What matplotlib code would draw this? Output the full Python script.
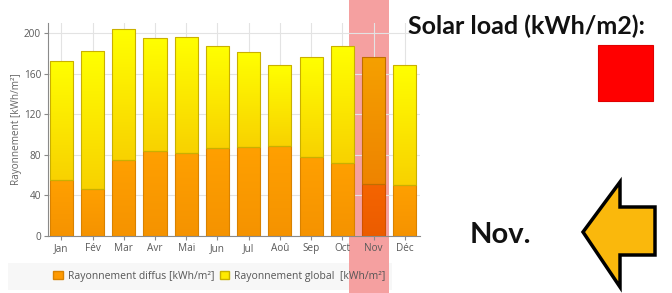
import numpy as np
import matplotlib.pyplot as plt
from matplotlib.colors import to_rgb
from matplotlib.patches import Patch, Rectangle, Polygon
from matplotlib.transforms import blended_transform_factory

# Adatok
months = ['Jan', 'Fév', 'Mar', 'Avr', 'Mai', 'Jun', 'Jul', 'Aoû', 'Sep', 'Oct', 'Nov', 'Déc']
diffus = [55, 46, 75, 84, 82, 87, 88, 89, 78, 72, 51, 50]
glob = [173, 182, 204, 195, 196, 187, 181, 169, 176, 187, 176, 169]
highlight = 'Nov'

W, H = 672, 293
band_col = '#f5a0a0'

def px(x, y):
    return x / W, 1 - y / H

def multiply(c):
    return tuple(np.array(to_rgb(c)) * np.array(to_rgb(band_col)))

def gradient_bar(ax, rect, c_top, c_bot):
    n = 64
    t = np.linspace(0, 1, n)[:, None, None]
    img = np.array(to_rgb(c_bot))[None, None, :] * (1 - t) + np.array(to_rgb(c_top))[None, None, :] * t
    x, y = rect.get_x(), rect.get_y()
    im = ax.imshow(img, extent=[x, x + rect.get_width(), y, y + rect.get_height()],
                   origin='lower', aspect='auto', zorder=2, interpolation='bilinear')
    im.set_clip_path(rect)

plt.rcParams['font.family'] = ['Open Sans', 'DejaVu Sans']

fig = plt.figure(figsize=(W / 100, H / 100), dpi=100)

# háttér a jelmagyarázathoz
fig.patches.append(Rectangle(px(8, 290), 384 / W, 27 / H, transform=fig.transFigure,
                             facecolor='#f7f7f7', edgecolor='none', zorder=-3))

ax = fig.add_axes([48 / W, 57 / H, 372 / W, 213 / H])
ax.patch.set_alpha(0)

x = np.arange(len(months))
hi = months.index(highlight)

# kiemelő sáv a teljes magasságban
trans = blended_transform_factory(ax.transData, fig.transFigure)
fig.patches.append(Rectangle((hi - 0.78, 0), 1.28, 1, transform=trans,
                             facecolor=band_col, edgecolor='none', zorder=-2))

top_part = [g - d for g, d in zip(glob, diffus)]
b1 = ax.bar(x, diffus, width=0.74, facecolor='none', edgecolor='#d98200', linewidth=0.8, zorder=3)
b2 = ax.bar(x, top_part, bottom=diffus, width=0.74, facecolor='none', edgecolor='#c9b000',
            linewidth=0.8, zorder=3)

for i, (r1, r2) in enumerate(zip(b1, b2)):
    d_top, d_bot = '#ffa000', '#f59300'
    g_top, g_bot = '#ffff00', '#f8d200'
    if i == hi:
        d_top, d_bot, g_top, g_bot = map(multiply, (d_top, d_bot, g_top, g_bot))
        r1.set_edgecolor(multiply('#d98200'))
        r2.set_edgecolor(multiply('#c9b000'))
    gradient_bar(ax, r1, d_top, d_bot)
    gradient_bar(ax, r2, g_top, g_bot)

ax.set_xlim(-0.43, 11.49)
ax.set_ylim(0, 210)
ax.set_yticks([0, 40, 80, 120, 160, 200])
ax.set_xticks(x)
ax.set_xticklabels(months)
ax.grid(True, color='#e3e3e3', linewidth=0.8, zorder=0)
ax.set_axisbelow(True)
for s in ['top', 'right']:
    ax.spines[s].set_visible(False)
ax.spines['left'].set_color('#8a8a8a')
ax.spines['bottom'].set_color('#8a8a8a')
ax.tick_params(labelsize=7.2, colors='#8a8a8a', labelcolor='#5a5a5a', length=3, width=0.8, pad=2)
ax.set_ylabel('Rayonnement [kWh/m²]', fontsize=7.2, color='#666666', labelpad=1)

handles = [Patch(facecolor='#ff9a00', edgecolor='#d98200'),
           Patch(facecolor='#ffea00', edgecolor='#c9b000')]
fig.legend(handles, ['Rayonnement diffus [kWh/m²]', 'Rayonnement global  [kWh/m²]'],
           loc='center left', bbox_to_anchor=px(44, 276), ncol=2, frameon=False,
           fontsize=7.5, handlelength=0.9, handleheight=0.9, handletextpad=0.5,
           columnspacing=0.5, labelcolor='#555555')

# jobb oldali feliratok
fig.text(*px(408, 26), 'Solar load (kWh/m2):', fontsize=18, fontweight='bold',
         family='Lato', va='center', ha='left', color='#111111')
fig.patches.append(Rectangle(px(598, 101), 55 / W, 56 / H, transform=fig.transFigure,
                             facecolor='#ff0000', edgecolor='#e00000', linewidth=0.8))
fig.text(*px(470, 235), 'Nov.', fontsize=21, fontweight='bold', family='Lato',
         va='center', ha='left', color='#111111')

arrow = [(583, 232), (620, 182), (620, 207), (655, 207), (655, 255), (620, 255), (620, 287)]
fig.patches.append(Polygon([px(a, b) for a, b in arrow], closed=True, transform=fig.transFigure,
                           facecolor='#fab80c', edgecolor='black', linewidth=2.5, joinstyle='miter'))

fig.savefig('out.png', dpi=100)
